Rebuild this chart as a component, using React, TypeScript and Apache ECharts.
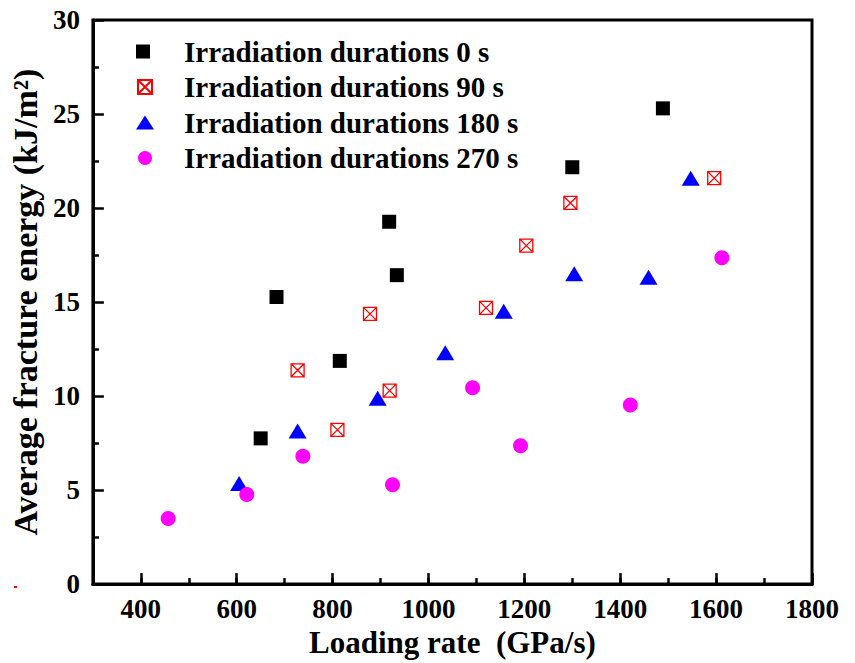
import React, { useEffect, useRef } from "react";
import * as echarts from "echarts";

const seriesNames = [
  "Irradiation durations 0 s",
  "Irradiation durations 90 s",
  "Irradiation durations 180 s",
  "Irradiation durations 270 s",
];

// [loading rate (GPa/s), average fracture energy (kJ/m²)]
const dur0: [number, number][] = [
  [650, 7.75], [683, 15.27], [815, 11.87], [918, 19.27], [934, 16.43], [1300, 22.17], [1489, 25.3],
];
const dur90: [number, number][] = [
  [727, 11.37], [810, 8.2], [878, 14.37], [919, 10.29], [1120, 14.69], [1204, 18.0], [1296, 20.27], [1596, 21.59],
];
const dur180: [number, number][] = [
  [605, 5.35], [727, 8.14], [894, 9.88], [1035, 12.31], [1157, 14.51], [1304, 16.5], [1459, 16.32], [1547, 21.59],
];
const dur270: [number, number][] = [
  [457, 3.49], [621, 4.77], [738, 6.8], [925, 5.28], [1092, 10.44], [1192, 7.36], [1421, 9.52], [1612, 17.36],
];

const xMin = 300;
const xMax = 1800;
const yMin = 0;
const yMax = 30;

const FONT = "'Liberation Serif', 'Times New Roman', serif";
const crossedSquare = "path://M0,0L10,0L10,10L0,10Z M0,0L10,10 M10,0L0,10";

export default function App() {
  const ref = useRef<HTMLDivElement>(null);

  useEffect(() => {
    if (!ref.current) return;
    const chart = echarts.init(ref.current, null, { renderer: "svg" });
    const lineStyle = { color: "#000", width: 3 };
    const option: any = {
      animation: false,
      backgroundColor: "#fff",
      grid: {
        left: 92,
        right: 43,
        top: 20,
        bottom: 75,
        show: true,
        borderColor: "#000",
        borderWidth: 3,
        backgroundColor: "transparent",
      },
      legend: {
        orient: "vertical",
        left: 136,
        top: 37,
        padding: 0,
        itemGap: 6.5,
        itemWidth: 18,
        itemHeight: 14,
        data: seriesNames,
        textStyle: {
          fontFamily: FONT,
          fontWeight: "bold",
          fontSize: 29,
          color: "#000",
          lineHeight: 29,
          padding: [0, 0, 0, 25],
        },
      },
      xAxis: [
        {
          type: "value",
          position: "bottom",
          min: xMin,
          max: xMax,
          interval: 100,
          splitLine: { show: false },
          axisLine: { show: true, lineStyle },
          axisTick: { show: true, inside: true, length: 6, lineStyle: { color: "#000", width: 2.5 } },
          axisLabel: {
            margin: 11,
            fontFamily: FONT,
            fontWeight: "bold",
            fontSize: 27,
            color: "#000",
            formatter: (v: number) => (v % 200 === 0 ? String(v) : ""),
          },
          name: "Loading rate  (GPa/s)",
          nameLocation: "middle",
          nameGap: 41,
          nameTextStyle: { fontFamily: FONT, fontWeight: "bold", fontSize: 31, color: "#000" },
        },
        {
          type: "value",
          position: "bottom",
          min: xMin,
          max: xMax,
          splitNumber: 7,
          splitLine: { show: false },
          axisLine: { show: false },
          axisTick: { show: true, inside: true, length: 11, lineStyle: { color: "#000", width: 2.5 } },
          axisLabel: { show: false },
        },
      ],
      yAxis: {
        type: "value",
        min: yMin,
        max: yMax,
        interval: 5,
        splitLine: { show: false },
        axisLine: { show: true, lineStyle },
        axisTick: { show: true, inside: true, length: 11, lineStyle: { color: "#000", width: 2.5 } },
        minorTick: { show: true, splitNumber: 2, length: 6, lineStyle: { color: "#000", width: 2.5 } },
        axisLabel: { margin: 13, fontFamily: FONT, fontWeight: "bold", fontSize: 27, color: "#000" },
        name: "Average fracture energy (kJ/m²)",
        nameLocation: "middle",
        nameRotate: 90,
        nameGap: 48,
        nameTextStyle: { fontFamily: FONT, fontWeight: "bold", fontSize: 34, color: "#000" },
      },
      series: [
        {
          name: seriesNames[0],
          type: "scatter",
          data: dur0,
          symbol: "square",
          symbolSize: 14,
          itemStyle: { color: "#000", opacity: 1 },
        },
        {
          name: seriesNames[1],
          type: "scatter",
          data: dur90,
          symbol: crossedSquare,
          symbolSize: 13,
          symbolKeepAspect: true,
          itemStyle: { color: "rgba(255,255,255,0)", borderColor: "#ff0000", borderWidth: 1.3, opacity: 1 },
        },
        {
          name: seriesNames[2],
          type: "scatter",
          data: dur180,
          symbol: "triangle",
          symbolSize: [18, 15],
          itemStyle: { color: "#0000ff", opacity: 1 },
        },
        {
          name: seriesNames[3],
          type: "scatter",
          data: dur270,
          symbol: "circle",
          symbolSize: 15,
          itemStyle: { color: "#ff00ff", opacity: 1 },
        },
      ],
      graphic: [
        { type: "rect", left: 14, top: 586, shape: { width: 3, height: 2 }, style: { fill: "#ff0000" } },
      ],
    };
    chart.setOption(option);
    return () => chart.dispose();
  }, []);

  return (
    <div
      ref={ref}
      style={{ position: "absolute", left: 0, top: 0, width: 855, height: 663 }}
    />
  );
}
